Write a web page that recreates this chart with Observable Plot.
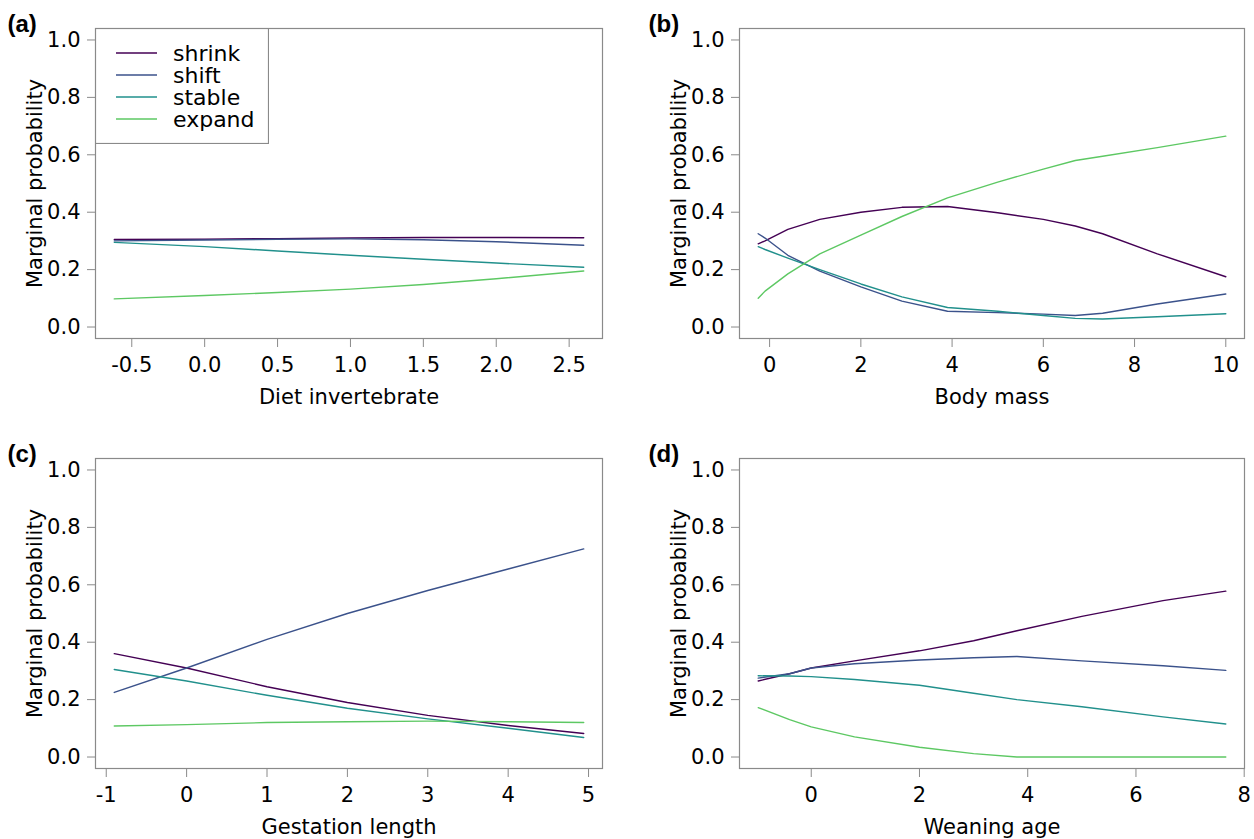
<!DOCTYPE html>
<html>
<head>
<meta charset="utf-8">
<script src="https://cdn.jsdelivr.net/npm/d3@7"></script>
<script src="https://cdn.jsdelivr.net/npm/@observablehq/plot@0.6"></script>
<style>
  html, body { margin: 0; padding: 0; background: white; }
  #root { position: relative; width: 1254px; height: 839px; overflow: hidden; background: white; font-family: "DejaVu Sans", sans-serif; }
  .panel { position: absolute; }
  #legend { position: absolute; left: 95px; top: 28px; }
</style>
</head>
<body>
<div id="root"></div>
<script>
// ---- data ----
const series = ["shrink", "shift", "stable", "expand"];
const colors = ["#440154", "#3B528B", "#21908C", "#5DC863"];
const yTicks = [0, 0.2, 0.4, 0.6, 0.8, 1.0];

// (a) Diet invertebrate
const aX = [-0.62, 0, 0.5, 1.0, 1.5, 2.0, 2.6];
const aShrink = [0.305, 0.306, 0.308, 0.310, 0.312, 0.312, 0.311];
const aShift  = [0.300, 0.303, 0.306, 0.307, 0.304, 0.297, 0.285];
const aStable = [0.295, 0.280, 0.265, 0.250, 0.236, 0.223, 0.208];
const aExpand = [0.098, 0.110, 0.120, 0.132, 0.148, 0.168, 0.195];
const aTicks = [-0.5, 0, 0.5, 1.0, 1.5, 2.0, 2.5];

// (b) Body mass
const bX = [-0.25, -0.1, 0.4, 1.1, 2, 2.9, 3.9, 5, 6, 6.7, 7.3, 8.5, 10];
const bShrink = [0.29, 0.30, 0.34, 0.375, 0.40, 0.417, 0.42, 0.398, 0.375, 0.352, 0.325, 0.255, 0.175];
const bShift  = [0.325, 0.31, 0.25, 0.195, 0.14, 0.09, 0.055, 0.05, 0.045, 0.04, 0.048, 0.08, 0.115];
const bStable = [0.28, 0.27, 0.24, 0.20, 0.15, 0.105, 0.068, 0.055, 0.04, 0.03, 0.028, 0.036, 0.046];
const bExpand = [0.10, 0.125, 0.185, 0.255, 0.32, 0.385, 0.45, 0.505, 0.55, 0.58, 0.595, 0.625, 0.665];
const bTicks = [0, 2, 4, 6, 8, 10];

// (c) Gestation length
const cX = [-0.9, 0, 1, 2, 3, 4, 4.94];
const cShrink = [0.36, 0.31, 0.245, 0.19, 0.145, 0.11, 0.082];
const cShift  = [0.225, 0.31, 0.41, 0.50, 0.58, 0.655, 0.725];
const cStable = [0.305, 0.265, 0.215, 0.17, 0.133, 0.10, 0.068];
const cExpand = [0.108, 0.113, 0.12, 0.123, 0.125, 0.123, 0.12];
const cTicks = [-1, 0, 1, 2, 3, 4, 5];

// (d) Weaning age
const dX = [-0.98, -0.4, 0, 0.8, 2, 3, 3.8, 5, 6.5, 7.66];
const dShrink = [0.265, 0.29, 0.31, 0.335, 0.37, 0.405, 0.44, 0.49, 0.545, 0.578];
const dShift  = [0.275, 0.29, 0.31, 0.325, 0.338, 0.346, 0.35, 0.335, 0.318, 0.302];
const dStable = [0.283, 0.282, 0.28, 0.27, 0.25, 0.222, 0.20, 0.175, 0.14, 0.115];
const dExpand = [0.172, 0.13, 0.105, 0.07, 0.034, 0.012, 0, 0, 0, 0];
const dTicks = [0, 2, 4, 6, 8];

const yLabel = "Marginal probability";
const frameColor = "#8a8a8a";

function panel(cfg) {
  const data = [];
  series.forEach((s, i) => cfg.x.forEach((xv, j) => data.push({x: xv, y: cfg.ys[i][j], s})));
  const [lo, hi] = d3.extent(cfg.x);
  const w = hi - lo;
  return Plot.plot({
    width: cfg.width, height: cfg.height,
    marginLeft: cfg.ml, marginRight: cfg.mr, marginTop: cfg.mt, marginBottom: cfg.mb,
    x: {domain: [lo - 0.04 * w, hi + 0.04 * w]},
    y: {domain: [-0.04, 1.04]},
    color: {domain: series, range: colors},
    style: {fontFamily: "DejaVu Sans", fontSize: "21px", color: "black", background: "white", overflow: "visible"},
    marks: [
      Plot.frame({stroke: frameColor, strokeWidth: 1.2}),
      Plot.axisY({ticks: yTicks, tickFormat: d => d.toFixed(1), tickSize: 8, tickPadding: 7,
                  stroke: frameColor, fill: "black", label: null, fontSize: 21}),
      Plot.axisX({ticks: cfg.ticks, tickFormat: cfg.fmt, tickSize: 9, tickPadding: 10,
                  stroke: frameColor, fill: "black", label: null, fontSize: 21}),
      Plot.line(data, {x: "x", y: "y", z: "s", stroke: "s", strokeWidth: 1.4}),
      Plot.text([cfg.xLabel], {frameAnchor: "bottom", textAnchor: "middle", lineAnchor: "middle", dy: 59,
                text: d => d, fontSize: 21, fill: "black"}),
      Plot.text([yLabel], {frameAnchor: "left", textAnchor: "middle", lineAnchor: "middle", rotate: -90, dx: -60,
                text: d => d, fontSize: 21, fill: "black"}),
      Plot.text([cfg.tag], {frameAnchor: "top-left", dx: cfg.tagDx, dy: -4, text: d => d, textAnchor: "start",
                lineAnchor: "middle", fontWeight: "bold", fontFamily: "Liberation Sans", fontSize: 24, fill: "black"})
    ]
  });
}

const root = document.getElementById("root");
function place(node, left, top) {
  node.classList.add("panel");
  node.style.left = left + "px";
  node.style.top = top + "px";
  root.appendChild(node);
}

const fmt1 = d => d.toFixed(1);
const fmt0 = d => String(d);

place(panel({x: aX, ys: [aShrink, aShift, aStable, aExpand], ticks: aTicks, fmt: fmt1, xLabel: "Diet invertebrate", tag: "(a)",
  width: 627, height: 420, ml: 95, mr: 25, mt: 28, mb: 82, tagDx: -88}), 0, 0);
place(panel({x: bX, ys: [bShrink, bShift, bStable, bExpand], ticks: bTicks, fmt: fmt0, xLabel: "Body mass", tag: "(b)",
  width: 627, height: 420, ml: 112, mr: 10, mt: 28, mb: 82, tagDx: -91}), 627, 0);
place(panel({x: cX, ys: [cShrink, cShift, cStable, cExpand], ticks: cTicks, fmt: fmt0, xLabel: "Gestation length", tag: "(c)",
  width: 627, height: 409, ml: 95, mr: 25, mt: 28, mb: 71, tagDx: -88}), 0, 430);
place(panel({x: dX, ys: [dShrink, dShift, dStable, dExpand], ticks: dTicks, fmt: fmt0, xLabel: "Weaning age", tag: "(d)",
  width: 627, height: 409, ml: 112, mr: 10, mt: 28, mb: 71, tagDx: -91}), 627, 430);

// legend for panel (a)
const lg = d3.select(root).append("svg").attr("id", "legend").attr("width", 174).attr("height", 116);
lg.append("rect").attr("x", 0.5).attr("y", 0.5).attr("width", 173).attr("height", 115)
  .attr("fill", "white").attr("stroke", frameColor).attr("stroke-width", 1.2);
const rows = lg.selectAll("g").data(series).join("g").attr("transform", (d, i) => `translate(0,${25 + i * 22})`);
rows.append("line").attr("x1", 21).attr("x2", 62).attr("stroke", (d, i) => colors[i]).attr("stroke-width", 1.4);
rows.append("text").attr("x", 78).attr("dy", "0.35em").attr("font-family", "DejaVu Sans").attr("font-size", 22)
  .attr("fill", "black").text(d => d);
</script>
</body>
</html>
